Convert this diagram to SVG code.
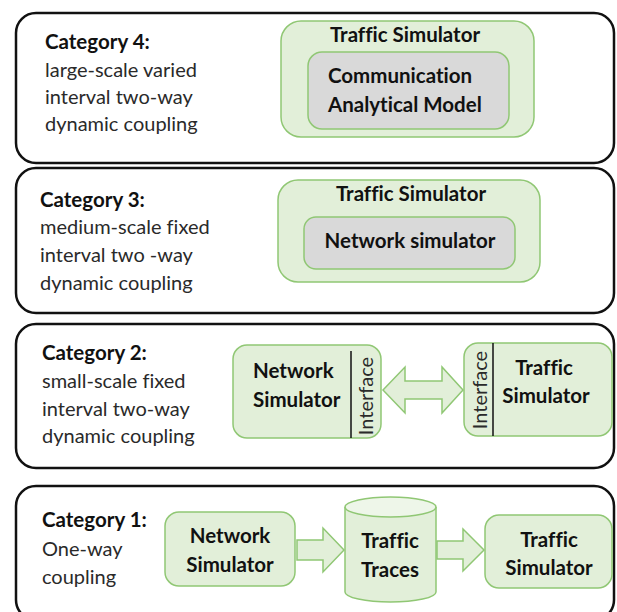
<svg xmlns="http://www.w3.org/2000/svg" width="617" height="612" viewBox="0 0 617 612">
<defs>
<style>
.panel{fill:#ffffff;stroke:#111111;stroke-width:2.5}
.g{fill:#e2efd9;stroke:#90c774;stroke-width:1.5}
.gray{fill:#d9d9d9;stroke:#90c774;stroke-width:1.5}
.top{fill:#eef6e9;stroke:#90c774;stroke-width:1.5}
.arr{fill:#e2efd9;stroke:#90c774;stroke-width:1.5;stroke-linejoin:miter}
.sep{stroke:#111111;stroke-width:1.5}
text{font-family:Lato,"Open Sans","Liberation Sans",sans-serif;font-size:20px;fill:#2a2a2a;font-variant-ligatures:none}
.b{font-weight:bold;fill:#111111;font-size:20.5px}
.c{text-anchor:middle}
</style>
</defs>
<rect width="617" height="612" fill="#ffffff"/>

<g id="panel4">
<rect class="panel" x="16" y="13" width="598" height="150" rx="20"/>
<text class="b" x="45" y="49">Category 4:</text>
<text x="45" y="77">large-scale varied</text>
<text x="45" y="104">interval two-way</text>
<text x="45" y="131">dynamic coupling</text>
</g>
<g id="c4-traffic">
<rect class="g" x="281" y="21" width="253" height="116" rx="20"/>
<text class="b c" x="405" y="42">Traffic Simulator</text>
</g>
<g id="c4-comm">
<rect class="gray" x="308" y="52" width="201" height="77" rx="14"/>
<text class="b" x="328" y="83">Communication</text>
<text class="b" x="328" y="112">Analytical Model</text>
</g>

<g id="panel3">
<rect class="panel" x="16" y="168" width="598" height="145" rx="20"/>
<text class="b" x="40" y="207">Category 3:</text>
<text x="40" y="234">medium-scale fixed</text>
<text x="40" y="262">interval two -way</text>
<text x="40" y="290">dynamic coupling</text>
</g>
<g id="c3-traffic">
<rect class="g" x="278" y="180" width="262" height="102" rx="20"/>
<text class="b c" x="411" y="201">Traffic Simulator</text>
</g>
<g id="c3-network">
<rect class="gray" x="304" y="217" width="211" height="52" rx="12"/>
<text class="b c" x="410" y="248">Network simulator</text>
</g>

<g id="panel2">
<rect class="panel" x="16" y="324" width="598" height="144" rx="20"/>
<text class="b" x="42" y="360">Category 2:</text>
<text x="42" y="388">small-scale fixed</text>
<text x="42" y="416">interval two-way</text>
<text x="42" y="443">dynamic coupling</text>
</g>
<g id="c2-network">
<rect class="g" x="233" y="345" width="148" height="93" rx="14"/>
<line class="sep" x1="351" y1="351" x2="351" y2="438"/>
<text class="b" x="253" y="378">Network</text>
<text class="b" x="253" y="407">Simulator</text>
<text class="c" transform="translate(373,396) rotate(-90)">Interface</text>
</g>
<g id="c2-traffic">
<rect class="g" x="464" y="343" width="148" height="93" rx="14"/>
<line class="sep" x1="493" y1="343" x2="493" y2="436"/>
<text class="c" transform="translate(487,390) rotate(-90)">Interface</text>
<text class="b c" x="544" y="375">Traffic</text>
<text class="b c" x="546" y="403">Simulator</text>
</g>

<g id="panel1">
<rect class="panel" x="16" y="486" width="598" height="134" rx="20"/>
<text class="b" x="42" y="527">Category 1:</text>
<text x="42" y="556">One-way</text>
<text x="42" y="584">coupling</text>
</g>
<g id="c1-network">
<rect class="g" x="165" y="512" width="130" height="74" rx="14"/>
<text class="b c" x="230" y="543">Network</text>
<text class="b c" x="230" y="572">Simulator</text>
</g>
<g id="c1-traces">
<path class="g" d="M345,507 L345,592 A45.5,10 0 0 0 436,592 L436,507"/>
<ellipse class="top" cx="390.5" cy="507" rx="45.5" ry="10"/>
<text class="b c" x="390" y="548">Traffic</text>
<text class="b c" x="390" y="577">Traces</text>
</g>
<g id="c1-traffic">
<rect class="g" x="485" y="515" width="127" height="73" rx="14"/>
<text class="b c" x="549" y="547">Traffic</text>
<text class="b c" x="549" y="575">Simulator</text>
</g>

<g id="connectors">
<path class="arr" d="M383,390 L405,367 L405,381 L442,381 L442,367 L463,390 L442,413 L442,399 L405,399 L405,413 Z"/>
<path class="arr" d="M297,540 L323,540 L323,528 L344,550 L323,572 L323,560 L297,560 Z"/>
<path class="arr" d="M437,541 L463,541 L463,529 L484,550 L463,571 L463,559 L437,559 Z"/>
</g>
</svg>
